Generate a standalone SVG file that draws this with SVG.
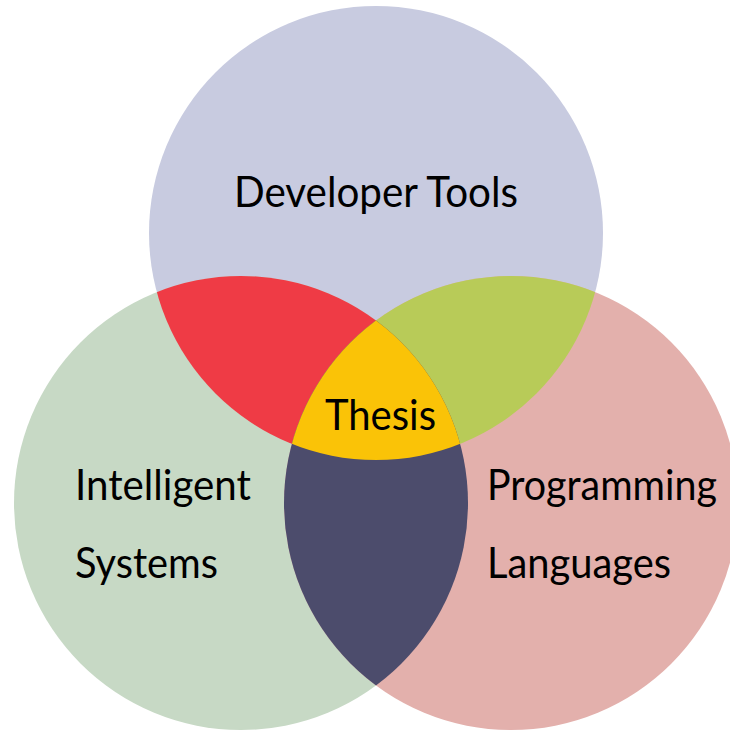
<svg xmlns="http://www.w3.org/2000/svg" xmlns:xlink="http://www.w3.org/1999/xlink" width="730" height="732" viewBox="0 0 730 732">
<style>
.lbl{font-family:Lato,"Open Sans","Liberation Sans",sans-serif;font-size:42px;fill:#000;}
</style>
<defs>
<clipPath id="cTop"><circle cx="376" cy="233" r="227"/></clipPath>
<clipPath id="cLeft"><circle cx="241" cy="503" r="227"/></clipPath>
<clipPath id="cRight"><circle cx="511" cy="503" r="227"/></clipPath>
</defs>
<rect width="730" height="732" fill="#fff"/>
<g id="developer-tools">
<circle cx="376" cy="233" r="227" fill="#C8CBE0"/>
</g>
<g id="intelligent-systems">
<circle cx="241" cy="503" r="227" fill="#C7D9C5"/>
</g>
<g id="programming-languages">
<circle cx="511" cy="503" r="227" fill="#E3B0AC"/>
</g>
<g id="dev-is" clip-path="url(#cTop)">
<circle cx="241" cy="503" r="227" fill="#EF3B45"/>
</g>
<g id="dev-pl" clip-path="url(#cTop)">
<circle cx="511" cy="503" r="227" fill="#B8CB58"/>
</g>
<g id="is-pl" clip-path="url(#cLeft)">
<circle cx="511" cy="503" r="227" fill="#4C4C6C"/>
</g>
<g id="thesis" clip-path="url(#cTop)">
<g clip-path="url(#cLeft)">
<circle cx="511" cy="503" r="227" fill="#FAC307"/>
</g>
</g>
<g id="labels">
<text class="lbl" x="234" y="207" textLength="284" lengthAdjust="spacingAndGlyphs">Developer Tools</text>
<text class="lbl" x="325" y="430" textLength="111" lengthAdjust="spacingAndGlyphs">Thesis</text>
<text class="lbl" x="75" y="500" textLength="176" lengthAdjust="spacingAndGlyphs">Intelligent</text>
<text class="lbl" x="75" y="578" textLength="143" lengthAdjust="spacingAndGlyphs">Systems</text>
<text class="lbl" x="487" y="500" textLength="230" lengthAdjust="spacingAndGlyphs">Programming</text>
<text class="lbl" x="487" y="578" textLength="184" lengthAdjust="spacingAndGlyphs">Languages</text>
</g>
</svg>
